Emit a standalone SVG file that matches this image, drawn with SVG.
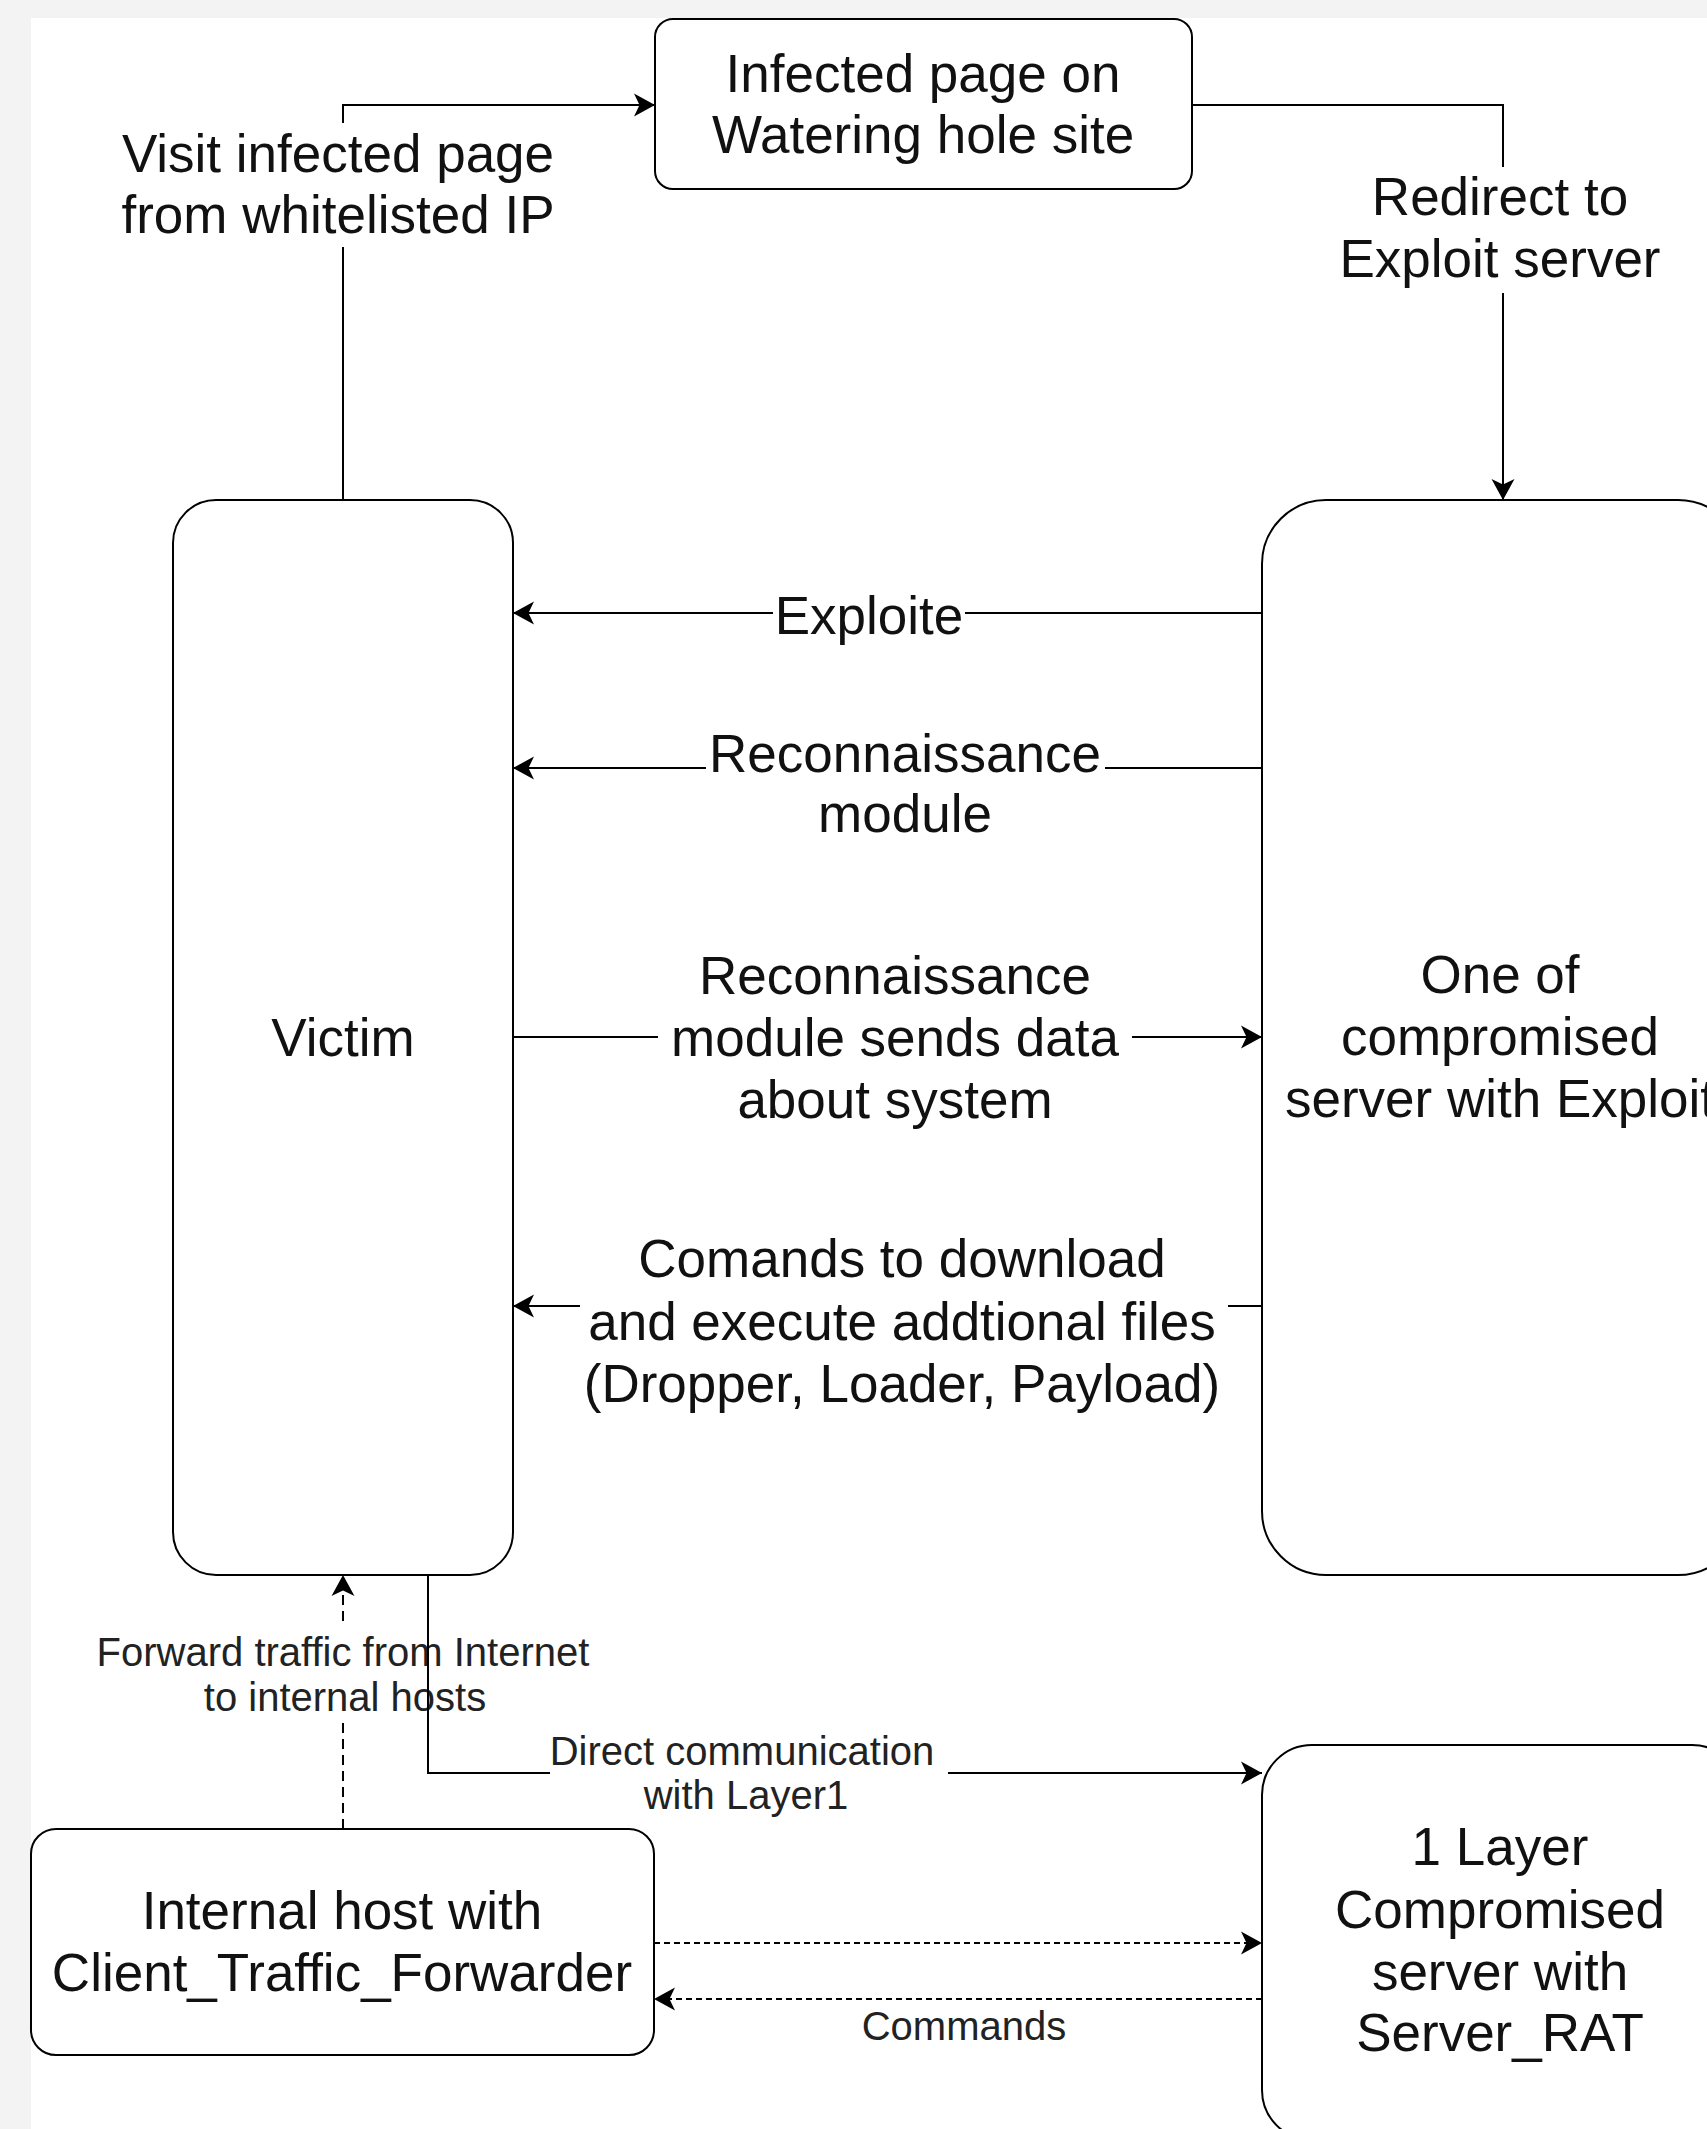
<svg xmlns="http://www.w3.org/2000/svg" width="1707" height="2129" viewBox="0 0 1707 2129">
<style>
.node{fill:#fff;stroke:#000;stroke-width:2}
.edge{fill:none;stroke:#000;stroke-width:2}
.dash{stroke-dasharray:10 6}
.dot{stroke-dasharray:6 4}
.lbg{fill:#fff;stroke:none}
text{font-family:"Liberation Sans",Arial,sans-serif;fill:#111;text-anchor:middle}
.big{font-size:53px}
.small{font-size:40px;fill:#222}
</style>
<defs>
<marker id="arr" viewBox="0 0 22 24" refX="21" refY="12" markerWidth="22" markerHeight="24" markerUnits="userSpaceOnUse" orient="auto">
<path d="M21,12 L0,0.5 L5.5,12 L0,23.5 Z" fill="#000"/>
</marker>
</defs>
<rect x="0" y="0" width="1707" height="2129" fill="#f3f3f3"/>
<rect x="31" y="18" width="1676" height="2111" fill="#fff"/>

<g id="connectors">
<g id="e-visit">
<path class="edge" d="M343,500 V105 H655" marker-end="url(#arr)"/>
<rect class="lbg" x="117" y="123" width="442" height="124"/>
<text class="big" x="338" y="172">Visit infected page</text>
<text class="big" x="338" y="233">from whitelisted IP</text>
</g>
<g id="e-redirect">
<path class="edge" d="M1192,105 H1503 V500" marker-end="url(#arr)"/>
<rect class="lbg" x="1336" y="167" width="326" height="126"/>
<text class="big" x="1500" y="215">Redirect to</text>
<text class="big" x="1500" y="277">Exploit server</text>
</g>
<g id="e-exploite">
<path class="edge" d="M1262,613 H513" marker-end="url(#arr)"/>
<rect class="lbg" x="773" y="592" width="192" height="50"/>
<text class="big" x="869" y="634">Exploite</text>
</g>
<g id="e-recon">
<path class="edge" d="M1262,768 H513" marker-end="url(#arr)"/>
<rect class="lbg" x="706" y="730" width="399" height="116"/>
<text class="big" x="905" y="772">Reconnaissance</text>
<text class="big" x="905" y="832">module</text>
</g>
<g id="e-sends">
<path class="edge" d="M513,1037 H1262" marker-end="url(#arr)"/>
<rect class="lbg" x="658" y="950" width="474" height="183"/>
<text class="big" x="895" y="994">Reconnaissance</text>
<text class="big" x="895" y="1056">module sends data</text>
<text class="big" x="895" y="1118">about system</text>
</g>
<g id="e-commands-dl">
<path class="edge" d="M1262,1306 H513" marker-end="url(#arr)"/>
<rect class="lbg" x="580" y="1234" width="648" height="183"/>
<text class="big" x="902" y="1277">Comands to download</text>
<text class="big" x="902" y="1340">and execute addtional files</text>
<text class="big" x="902" y="1402">(Dropper, Loader, Payload)</text>
</g>
<g id="e-forward">
<path class="edge dash" d="M343,1829 V1575" marker-end="url(#arr)"/>
<rect class="lbg" x="89" y="1627" width="510" height="95"/>
<text class="small" x="343" y="1666">Forward traffic from Internet</text>
<text class="small" x="345" y="1711">to internal hosts</text>
</g>
<g id="e-direct">
<path class="edge" d="M428,1575 V1773 H1262" marker-end="url(#arr)"/>
<rect class="lbg" x="550" y="1735" width="398" height="90"/>
<text class="small" x="742" y="1765">Direct communication</text>
<text class="small" x="746" y="1809">with Layer1</text>
</g>
<g id="e-fwd-traffic">
<path class="edge dot" d="M654,1943 H1262" marker-end="url(#arr)"/>
</g>
<g id="e-commands">
<path class="edge dot" d="M1262,1999 H654" marker-end="url(#arr)"/>
<text class="small" x="964" y="2040">Commands</text>
</g>
</g>

<g id="n-infected">
<rect class="node" x="655" y="19" width="537" height="170" rx="18"/>
<text class="big" x="923" y="92">Infected page on</text>
<text class="big" x="923" y="153">Watering hole site</text>
</g>
<g id="n-victim">
<rect class="node" x="173" y="500" width="340" height="1075" rx="43"/>
<text class="big" x="343" y="1056">Victim</text>
</g>
<g id="n-exploit">
<rect class="node" x="1262" y="500" width="480" height="1075" rx="64"/>
<text class="big" x="1500" y="993">One of</text>
<text class="big" x="1500" y="1055">compromised</text>
<text class="big" x="1500" y="1117">server with Exploit</text>
</g>
<g id="n-internal">
<rect class="node" x="31" y="1829" width="623" height="226" rx="25"/>
<text class="big" x="342" y="1929">Internal host with</text>
<text class="big" x="342" y="1991">Client_Traffic_Forwarder</text>
</g>
<g id="n-layer">
<rect class="node" x="1262" y="1745" width="480" height="395" rx="50"/>
<text class="big" x="1500" y="1865">1 Layer</text>
<text class="big" x="1500" y="1928">Compromised</text>
<text class="big" x="1500" y="1990">server with</text>
<text class="big" x="1500" y="2051">Server_RAT</text>
</g>
</svg>
